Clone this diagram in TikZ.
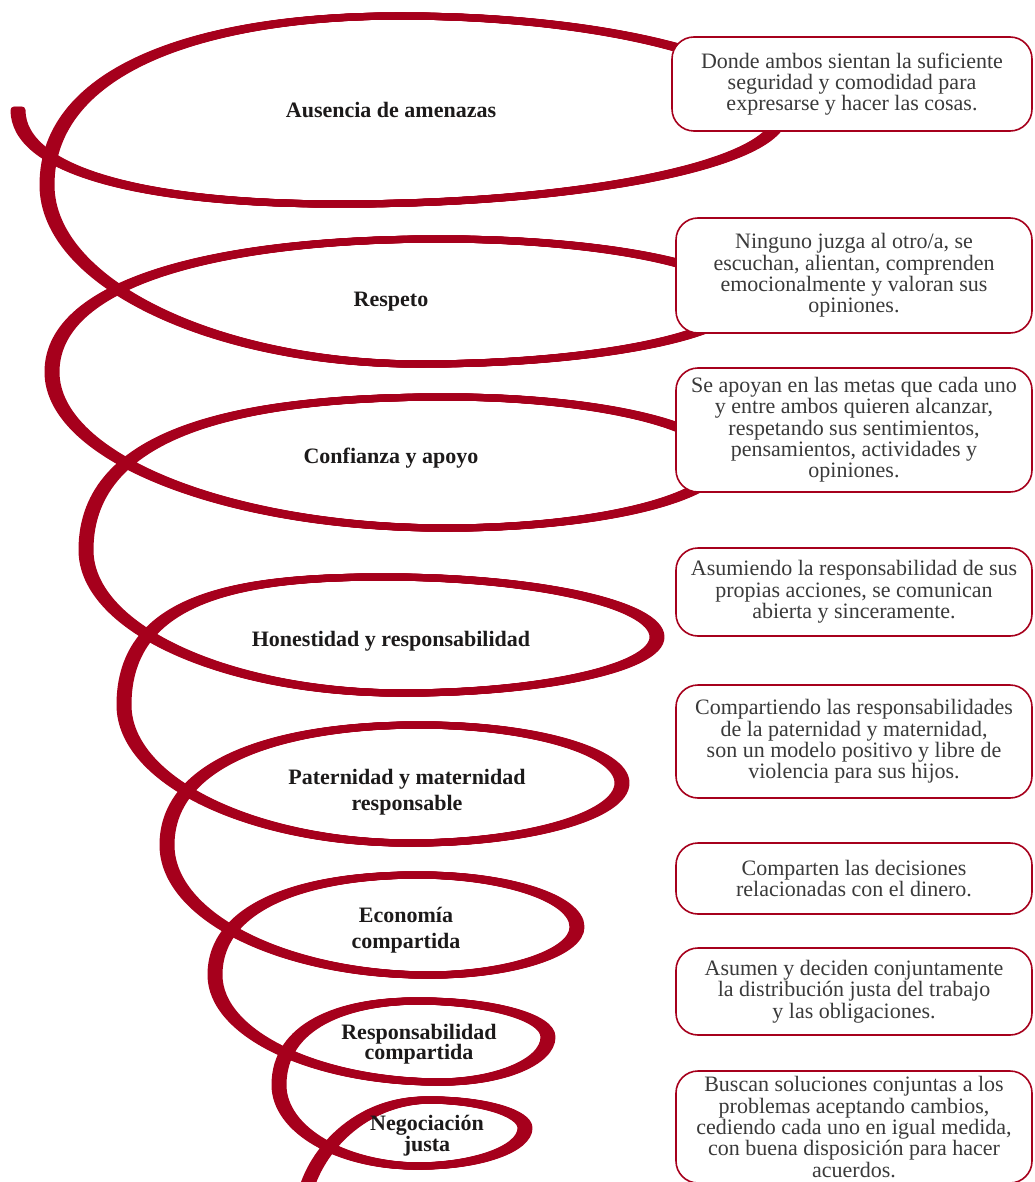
\documentclass[tikz,border=0pt]{standalone}
\usepackage{fontspec}
\setmainfont{Liberation Serif}
\usepackage{tikz}
\usetikzlibrary{positioning}
\definecolor{spiralred}{HTML}{A6001C}
\definecolor{boxtext}{HTML}{3A3A3A}
\definecolor{labeltext}{HTML}{1C1A1A}
\newcommand{\spiralpath}{(18,110) .. controls +(0,60) and +(-200,0) .. (340,204)
  .. controls +(242,0) and +(0,49) .. (780,115)
  .. controls +(0,-54) and +(209,0) .. (400,16)
  .. controls +(-194,0) and +(0,-118) .. (47,185)
  .. controls +(0,98) and +(-205,0) .. (420,364)
  .. controls +(176,0) and +(0,35) .. (740,300)
  .. controls +(0,-33) and +(165,0) .. (440,239)
  .. controls +(-213,0) and +(0,-93) .. (52,372)
  .. controls +(0,86) and +(-217,0) .. (446,528)
  .. controls +(151,0) and +(0,36) .. (720,462)
  .. controls +(0,-36) and +(151,0) .. (446,397)
  .. controls +(-198,0) and +(0,-122) .. (86,550)
  .. controls +(0,79) and +(-174,0) .. (402,693)
  .. controls +(140,0) and +(0,31) .. (657,637)
  .. controls +(0,-33) and +(150,0) .. (384,577)
  .. controls +(-143,0) and +(0,-109) .. (124,705)
  .. controls +(0,76) and +(-157,0) .. (410,843)
  .. controls +(117,0) and +(0,33) .. (622,783)
  .. controls +(0,-32) and +(111,0) .. (420,725)
  .. controls +(-139,0) and +(0,-84) .. (167,845)
  .. controls +(0,72) and +(-144,0) .. (429,975)
  .. controls +(81,0) and +(0,26) .. (577,927)
  .. controls +(0,-29) and +(87,0) .. (418,875)
  .. controls +(-112,0) and +(0,-70) .. (215,975)
  .. controls +(0,59) and +(-124,0) .. (440,1082)
  .. controls +(59,0) and +(0,25) .. (548,1037)
  .. controls +(0,-20) and +(72,0) .. (418,1001)
  .. controls +(-76,0) and +(0,-59) .. (279,1085)
  .. controls +(0,45) and +(-76,0) .. (418,1166)
  .. controls +(59,0) and +(0,21) .. (525,1128)
  .. controls +(0,-15) and +(53,0) .. (429,1100)
  .. controls +(-75,0) and +(5,-45) .. (303,1205)}

\begin{document}
\begin{tikzpicture}[x=1pt,y=-1pt,
  spiral/.style={draw=spiralred,line width=7pt,line cap=round,line join=round},
  descbox/.style={draw=spiralred,line width=1.6pt,fill=white,rounded corners=22pt,
    align=center,inner sep=0pt,text=boxtext,font=\fontsize{22}{21.3}\selectfont},
  lbl/.style={align=center,text=labeltext,font=\bfseries\fontsize{22}{26}\selectfont}]
  \useasboundingbox (0,0) rectangle (1034,1182);
  \clip (0,0) rectangle (1034,1182);
  \foreach \dx in {-4,-3,...,4}
    \draw[spiral,xshift=\dx pt] \spiralpath;
  \node[lbl] (amenazas) at (391,110) {Ausencia de amenazas};
  \node[lbl] (respeto) at (391,302) {Respeto};
  \node[lbl] (confianza) at (391,458) {Confianza y apoyo};
  \node[lbl] (honestidad) at (391,641) {Honestidad y responsabilidad};
  \node[lbl] (paternidad) at (407,792) {Paternidad y maternidad\\responsable};
  \node[lbl] (economia) at (406,930) {Economía\\compartida};
  \node[lbl,font=\bfseries\fontsize{22}{20}\selectfont] (responsab) at (419,1044) {Responsabilidad\\compartida};
  \node[lbl,font=\bfseries\fontsize{22}{20}\selectfont] (negociacion) at (427,1136) {Negociación\\justa};
  \node[descbox,minimum width=360pt,minimum height=94pt] (d1) at (852,84)
    {Donde ambos sientan la suficiente\\seguridad y comodidad para\\expresarse y hacer las cosas.};
  \node[descbox,minimum width=356pt,minimum height=115pt] (d2) at (854,275.5)
    {Ninguno juzga al otro/a, se\\escuchan, alientan, comprenden\\emocionalmente y valoran sus\\opiniones.};
  \node[descbox,minimum width=356pt,minimum height=124pt] (d3) at (854,430)
    {Se apoyan en las metas que cada uno\\y entre ambos quieren alcanzar,\\respetando sus sentimientos,\\pensamientos, actividades y\\opiniones.};
  \node[descbox,minimum width=356pt,minimum height=88pt] (d4) at (854,592)
    {Asumiendo la responsabilidad de sus\\propias acciones, se comunican\\abierta y sinceramente.};
  \node[descbox,minimum width=356pt,minimum height=113pt] (d5) at (854,741.5)
    {Compartiendo las responsabilidades\\de la paternidad y maternidad,\\son un modelo positivo y libre de\\violencia para sus hijos.};
  \node[descbox,minimum width=356pt,minimum height=71pt] (d6) at (854,878.5)
    {Comparten las decisiones\\relacionadas con el dinero.};
  \node[descbox,minimum width=356pt,minimum height=87pt] (d7) at (854,991.5)
    {Asumen y deciden conjuntamente\\la distribución justa del trabajo\\y las obligaciones.};
  \node[descbox,minimum width=356pt,minimum height=112pt] (d8) at (854,1127)
    {Buscan soluciones conjuntas a los\\problemas aceptando cambios,\\cediendo cada uno en igual medida,\\con buena disposición para hacer\\acuerdos.};
\end{tikzpicture}
\end{document}
